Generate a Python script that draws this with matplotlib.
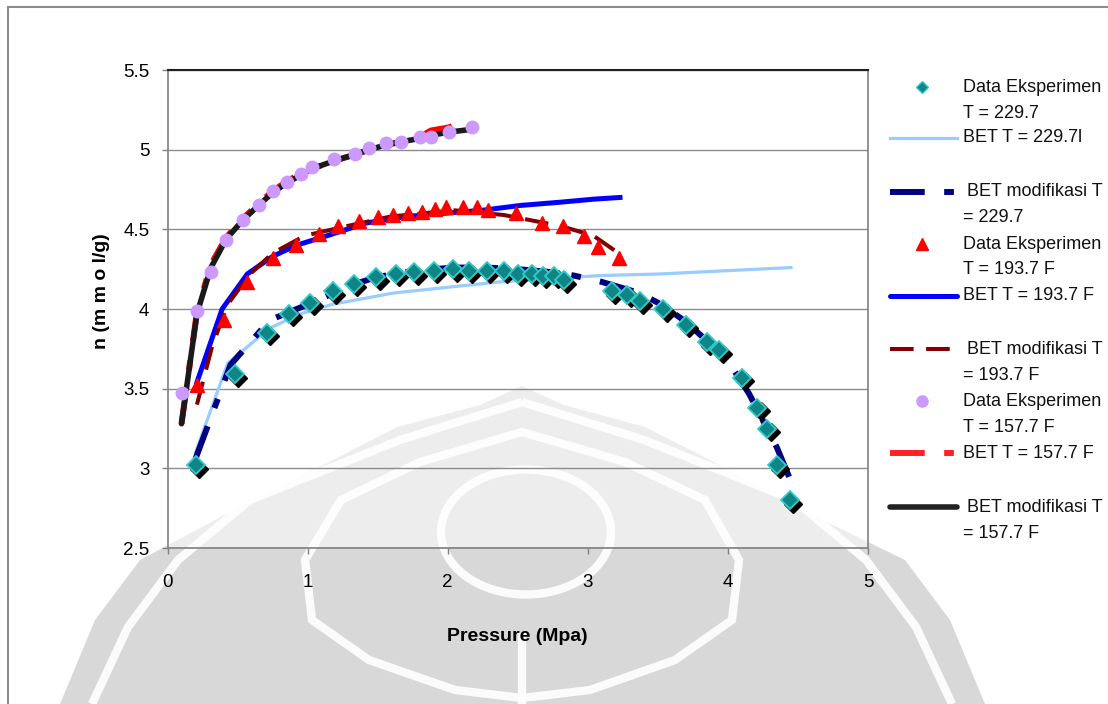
import matplotlib
matplotlib.use("Agg")
import matplotlib.pyplot as plt
from matplotlib.lines import Line2D
from matplotlib.patches import Polygon, Ellipse, Rectangle
from matplotlib import transforms

plt.rcParams['font.family'] = ['Liberation Sans Narrow', 'Liberation Sans', 'DejaVu Sans']
plt.rcParams['lines.scale_dashes'] = False

# Data Eksperimen T = 229.7 F
p_exp_229 = [0.20, 0.48, 0.71, 0.87, 1.02, 1.18, 1.33, 1.49, 1.63, 1.76, 1.90, 2.04, 2.15, 2.28, 2.40, 2.50,
             2.60, 2.68, 2.76, 2.83, 3.17, 3.28, 3.37, 3.54, 3.70, 3.85, 3.94, 4.10, 4.21, 4.28, 4.35, 4.44]
n_exp_229 = [3.02, 3.59, 3.85, 3.97, 4.04, 4.11, 4.16, 4.20, 4.22, 4.23, 4.24, 4.25, 4.24, 4.24, 4.24, 4.22,
             4.22, 4.21, 4.21, 4.18, 4.11, 4.09, 4.05, 4.00, 3.90, 3.79, 3.74, 3.57, 3.38, 3.25, 3.02, 2.80]

# BET T = 229.7
p_bet_229 = [0.20, 0.43, 0.73, 0.95, 1.18, 1.61, 2.04, 2.37, 2.73, 3.09, 3.52, 3.98, 4.45]
n_bet_229 = [3.10, 3.66, 3.88, 3.97, 4.03, 4.10, 4.14, 4.17, 4.19, 4.21, 4.22, 4.24, 4.26]

# BET modifikasi T = 229.7
p_mod_229 = [0.20, 0.45, 0.73, 0.95, 1.11, 1.28, 1.49, 1.76, 2.04, 2.28, 2.50, 2.76, 2.90, 3.10, 3.37,
             3.52, 3.70, 3.85, 4.01, 4.15, 4.35, 4.44]
n_mod_229 = [3.06, 3.65, 3.93, 4.01, 4.07, 4.14, 4.20, 4.24, 4.26, 4.26, 4.25, 4.23, 4.21, 4.17, 4.10,
             4.03, 3.92, 3.80, 3.66, 3.47, 3.13, 2.94]

# Data Eksperimen T = 193.7 F
p_exp_193 = [0.21, 0.40, 0.57, 0.75, 0.92, 1.08, 1.22, 1.37, 1.50, 1.61, 1.72, 1.82, 1.91, 1.99, 2.11, 2.21,
             2.29, 2.49, 2.67, 2.82, 2.97, 3.07, 3.22]
n_exp_193 = [3.52, 3.93, 4.17, 4.32, 4.40, 4.47, 4.52, 4.55, 4.58, 4.59, 4.60, 4.61, 4.63, 4.64, 4.64, 4.64,
             4.62, 4.60, 4.54, 4.52, 4.46, 4.39, 4.32]

# BET T = 193.7 F
p_bet_193 = [0.21, 0.39, 0.57, 0.75, 0.92, 1.14, 1.42, 1.70, 1.97, 2.25, 2.52, 2.80, 3.05, 3.23]
n_bet_193 = [3.54, 4.00, 4.22, 4.33, 4.40, 4.46, 4.54, 4.58, 4.60, 4.62, 4.65, 4.67, 4.69, 4.70]

# BET modifikasi T = 193.7 F
p_mod_193 = [0.21, 0.32, 0.43, 0.59, 0.75, 0.98, 1.28, 1.59, 2.04, 2.40, 2.81, 3.04, 3.22]
n_mod_193 = [3.40, 3.77, 4.03, 4.22, 4.35, 4.46, 4.52, 4.58, 4.62, 4.59, 4.52, 4.46, 4.35]

# Data Eksperimen T = 157.7 F
p_exp_157 = [0.10, 0.21, 0.31, 0.42, 0.54, 0.65, 0.75, 0.85, 0.95, 1.03, 1.19, 1.34, 1.44, 1.56, 1.67,
             1.80, 1.88, 2.01, 2.17]
n_exp_157 = [3.47, 3.99, 4.23, 4.43, 4.56, 4.65, 4.74, 4.80, 4.85, 4.89, 4.94, 4.97, 5.01, 5.04, 5.05,
             5.08, 5.08, 5.11, 5.14]

# BET T = 157.7 F
p_bet_157 = [0.10, 0.21, 0.31, 0.42, 0.54, 0.65, 0.75, 0.85, 0.95, 1.03, 1.19, 1.34, 1.44, 1.56, 1.67,
             1.80, 1.88, 2.01, 2.09]
n_bet_157 = [3.28, 3.98, 4.28, 4.45, 4.57, 4.66, 4.74, 4.80, 4.85, 4.88, 4.93, 4.97, 5.00, 5.03, 5.05,
             5.08, 5.12, 5.14, 5.17]

# BET modifikasi T = 157.7 F
p_mod_157 = [0.10, 0.21, 0.31, 0.42, 0.54, 0.65, 0.75, 0.85, 0.95, 1.03, 1.19, 1.34, 1.44, 1.56, 1.67,
             1.80, 1.88, 2.01, 2.19]
n_mod_157 = [3.28, 3.97, 4.26, 4.44, 4.56, 4.65, 4.73, 4.79, 4.84, 4.88, 4.93, 4.97, 5.00, 5.03, 5.05,
             5.07, 5.09, 5.11, 5.13]

x_ticks = [0, 1, 2, 3, 4, 5]
y_ticks = [2.5, 3, 3.5, 4, 4.5, 5, 5.5]
y_tick_labels = ['2.5', '3', '3.5', '4', '4.5', '5', '5.5']

legend_rows = [
    ('diamond', ['Data Eksperimen', 'T = 229.7']),
    ('bet229', ['BET T = 229.7l']),
    ('mod229', ['BET modifikasi T', '= 229.7']),
    ('triangle', ['Data Eksperimen', 'T = 193.7 F']),
    ('bet193', ['BET T = 193.7 F']),
    ('mod193', ['BET modifikasi T', '= 193.7 F']),
    ('circle', ['Data Eksperimen', 'T = 157.7 F']),
    ('bet157', ['BET T = 157.7 F']),
    ('mod157', ['BET modifikasi T', '= 157.7 F']),
]
legend_y = [87, 138, 192, 244, 296, 349, 401, 453, 507]

W, H = 1108, 704
fig = plt.figure(figsize=(W / 100, H / 100), dpi=100)


def fx(px):
    return px / W


def fy(py):
    return 1 - py / H


def fig_poly(pts, **kw):
    return Polygon([(fx(x), fy(y)) for x, y in pts], transform=fig.transFigure, **kw)


# faded logo behind the chart
wm_grey = '#d8d8d8'
outer = [(522, 386), (480, 405), (397, 427), (333, 460), (234, 510), (140, 560), (95, 620), (60, 704),
         (985, 704), (950, 620), (905, 560), (802, 510), (710, 460), (645, 427), (564, 405)]
fig.add_artist(fig_poly(outer, closed=True, fc=wm_grey, ec='none', zorder=-5))
white_kw = dict(fc='none', ec='white', lw=6, alpha=0.9, zorder=-4)
ring = [(522, 432), (420, 462), (341, 500), (305, 560), (312, 620), (369, 660), (455, 690), (522, 698),
        (590, 690), (675, 660), (732, 620), (739, 560), (705, 500), (625, 462)]
fig.add_artist(fig_poly(ring, closed=True, **white_kw))
ring2 = [(522, 402), (400, 440), (250, 500), (178, 560), (128, 627), (92, 704)]
fig.add_artist(fig_poly(ring2, closed=False, **white_kw))
fig.add_artist(fig_poly([(1044 - x, y) for x, y in ring2], closed=False, **white_kw))
fig.add_artist(Ellipse((fx(526), fy(532)), 170 / W, 125 / H, transform=fig.transFigure, **white_kw))
fig.add_artist(Line2D([fx(522), fx(522)], [fy(637), fy(704)], transform=fig.transFigure,
                      color='white', lw=6, alpha=0.9, zorder=-4))

# outer chart frame
fig.add_artist(Rectangle((fx(8), -0.2), 1.2, fy(7) + 0.2, transform=fig.transFigure,
                         fill=False, ec='#8c8c8c', lw=1.5, zorder=-3))

ax = fig.add_axes([fx(167.5), fy(548), (868 - 167.5) / W, (548 - 70) / H])
ax.set_facecolor((1, 1, 1, 0.55))

# model curves
ax.plot(p_bet_229, n_bet_229, color='#99ccff', lw=2.3, zorder=2)
ax.plot(p_mod_229, n_mod_229, color='#000080', lw=4.3, dashes=(25, 14, 7, 14), zorder=2)
ax.plot(p_bet_193, n_bet_193, color='#0000ff', lw=3.6, zorder=2)
ax.plot(p_mod_193, n_mod_193, color='#800000', lw=2.9, dashes=(17, 9), zorder=2)
ax.plot(p_bet_157, n_bet_157, color='#ff0000', lw=4.3, dashes=(25, 14, 7, 14), zorder=2)
ax.plot(p_mod_157, n_mod_157, color='#1a1a1a', lw=4.0, solid_capstyle='round', zorder=2)

# experimental points (diamonds carry a drop shadow)
shadow = transforms.offset_copy(ax.transData, fig=fig, x=3.5, y=-3.5, units='dots')
ax.plot(p_exp_229, n_exp_229, ls='none', marker='D', ms=9.5, color='black', transform=shadow, zorder=3)
ax.plot(p_exp_229, n_exp_229, ls='none', marker='D', ms=9.5, mfc='#108585', mec='#33cccc', mew=1.3, zorder=4)
ax.plot(p_exp_193, n_exp_193, ls='none', marker='^', ms=10.5, color='#ff0000', zorder=4)
ax.plot(p_exp_157, n_exp_157, ls='none', marker='o', ms=9, color='#cc99ff', zorder=4)

ax.set_xlim(0, 5)
ax.set_ylim(2.5, 5.5)
ax.set_xticks(x_ticks)
ax.set_xticklabels([str(t) for t in x_ticks])
ax.set_yticks(y_ticks)
ax.set_yticklabels(y_tick_labels)
ax.grid(axis='y', color='#8c8c8c', lw=1)
ax.set_axisbelow(True)
ax.tick_params(axis='both', direction='out', length=4, width=1, color='#808080', labelsize=13.5)
ax.tick_params(axis='x', pad=15)
ax.tick_params(axis='y', pad=9)
for side in ['left', 'right', 'bottom']:
    ax.spines[side].set_color('#808080')
    ax.spines[side].set_linewidth(1.2)
ax.spines['top'].set_color('#202020')
ax.spines['top'].set_linewidth(1.5)

ax.set_xlabel('Pressure (Mpa)', family=['Liberation Sans', 'DejaVu Sans'], fontweight='bold', fontsize=14)
ax.xaxis.set_label_coords(0.5, -0.168)
ax.set_ylabel('n (m m o l/g)', family=['Liberation Sans', 'DejaVu Sans'], fontweight='bold', fontsize=14)
ax.yaxis.set_label_coords(-0.082, 0.538)

# legend drawn by hand, Excel style
line_styles = {
    'bet229': dict(color='#99ccff', lw=2.3),
    'mod229': dict(color='#000080', lw=4.3, dashes=(25, 14, 7, 14)),
    'bet193': dict(color='#0000ff', lw=3.6, solid_capstyle='round'),
    'mod193': dict(color='#800000', lw=2.9, dashes=(17, 9)),
    'bet157': dict(color='#ff2222', lw=4.3, dashes=(25, 14, 7, 14)),
    'mod157': dict(color='#222222', lw=4.0, solid_capstyle='round'),
}
marker_styles = {
    'diamond': dict(marker='D', ms=6, mfc='#108585', mec='#33cccc', mew=1),
    'triangle': dict(marker='^', ms=9, color='#ff0000'),
    'circle': dict(marker='o', ms=8, color='#cc99ff'),
}
for (key, lines), y in zip(legend_rows, legend_y):
    if key in marker_styles:
        fig.add_artist(Line2D([fx(922)], [fy(y)], ls='none', transform=fig.transFigure, **marker_styles[key]))
    else:
        fig.add_artist(Line2D([fx(890), fx(957)], [fy(y), fy(y)], transform=fig.transFigure, **line_styles[key]))
    for i, txt in enumerate(lines):
        xoff = 967 if txt.startswith('BET modifikasi') else 963
        fig.text(fx(xoff), fy(y + 26 * i), txt, fontsize=13, va='center', ha='left', color='#111111')

fig.savefig('out.png', dpi=100)
